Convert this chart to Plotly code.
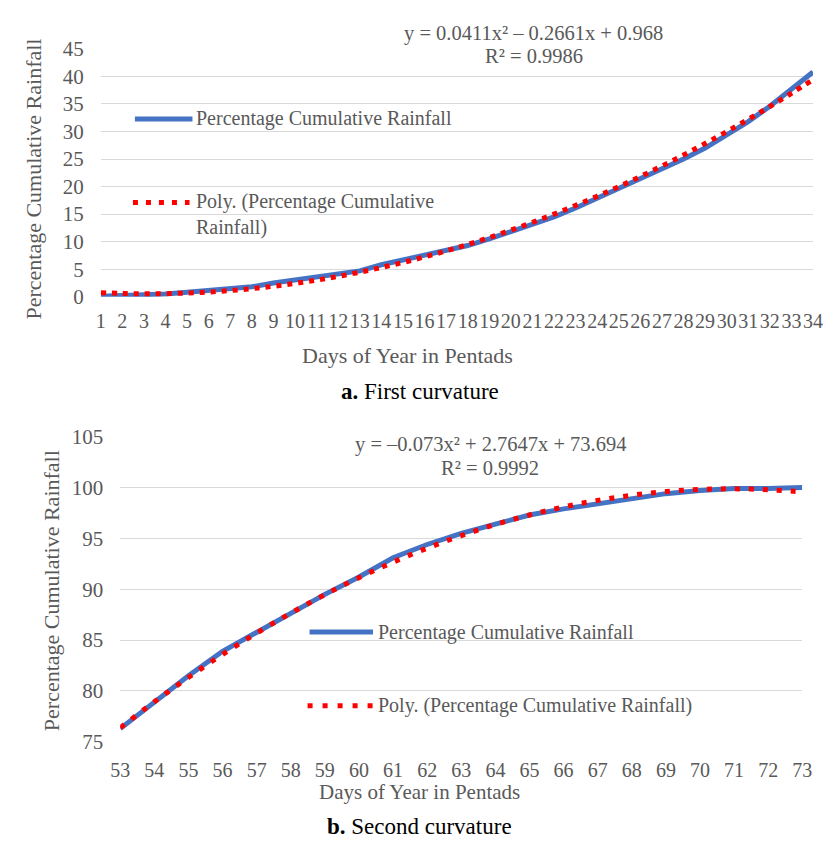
import plotly.graph_objects as go

# ---------------- data ----------------
pentads_a = [str(i) for i in range(1, 35)]
rain_a = [0.1, 0.2, 0.3, 0.5, 0.8, 1.1, 1.3, 1.8, 2.5, 3.0, 3.5, 4.2, 4.7, 5.8, 6.7, 7.6, 8.3,
          9.3, 10.5, 11.8, 13.2, 14.5, 16.1, 17.9, 19.7, 21.4, 23.1, 25.0, 27.0, 29.3, 31.8,
          34.6, 37.7, 40.8]
poly_a = [0.74, 0.60, 0.54, 0.56, 0.67, 0.85, 1.12, 1.47, 1.90, 2.42, 3.01, 3.69, 4.46, 5.30,
          6.22, 7.23, 8.32, 9.50, 10.75, 12.09, 13.51, 15.01, 16.59, 18.26, 20.00, 21.83,
          23.75, 25.74, 27.82, 29.98, 32.22, 34.54, 36.95, 39.43]

pentads_b = [str(i) for i in range(53, 74)]
rain_b = [76.3, 78.9, 81.5, 83.9, 85.8, 87.7, 89.5, 91.2, 93.1, 94.4, 95.5, 96.4, 97.3, 97.9,
          98.4, 98.8, 99.4, 99.7, 99.9, 99.9, 100.0]
poly_b = [76.39, 78.93, 81.33, 83.59, 85.69, 87.65, 89.47, 91.14, 92.66, 94.04, 95.27, 96.36,
          97.30, 98.09, 98.74, 99.24, 99.60, 99.81, 99.87, 99.79, 99.56]

eq_a = ["y = 0.0411x² – 0.2661x + 0.968", "R² = 0.9986"]
eq_b = ["y = –0.073x² + 2.7647x + 73.694", "R² = 0.9992"]
series_name = "Percentage Cumulative Rainfall"
poly_name_a = "Poly. (Percentage Cumulative<br>Rainfall)"
poly_name_b = "Poly. (Percentage Cumulative Rainfall)"
x_title = "Days of Year in Pentads"
y_title = "Percentage Cumulative Rainfall"

# ---------------- styling ----------------
W, H = 824, 851
FONT = "Liberation Serif, Times New Roman, serif"
GRAY = "#595959"
BLUE = "#4472C4"
RED = "#FF0000"
GRID = "#D9D9D9"


def px(x):
    return x / W


def py(y):
    return 1 - y / H


fig = go.Figure()
fig.add_trace(go.Scatter(x=pentads_a, y=rain_a, mode="lines", line=dict(color=BLUE, width=5),
                         xaxis="x", yaxis="y", name=series_name))
fig.add_trace(go.Scatter(x=pentads_a, y=poly_a, mode="lines",
                         line=dict(color=RED, width=5, dash="5px,6px", shape="spline"),
                         xaxis="x", yaxis="y", name="Poly"))
fig.add_trace(go.Scatter(x=pentads_b, y=rain_b, mode="lines", line=dict(color=BLUE, width=5),
                         xaxis="x2", yaxis="y2", name=series_name))
fig.add_trace(go.Scatter(x=pentads_b, y=poly_b, mode="lines",
                         line=dict(color=RED, width=5, dash="5px,9px", shape="spline"),
                         xaxis="x2", yaxis="y2", name="Poly"))

xtickfont = dict(family=FONT, size=20, color=GRAY)
ytickfont = dict(family=FONT, size=21, color=GRAY)
common_x = dict(type="category", showgrid=False, showline=False, zeroline=False, ticks="",
                tickfont=xtickfont, fixedrange=True, tickmode="linear", dtick=1, tickangle=0)
common_y = dict(showgrid=True, gridcolor=GRID, gridwidth=1.3, zeroline=False, showline=False,
                ticks="", tickfont=ytickfont, ticklabelstandoff=16, dtick=5)

fig.update_layout(
    width=W, height=H,
    margin=dict(l=0, r=0, t=0, b=0),
    paper_bgcolor="white", plot_bgcolor="white",
    showlegend=False,
    xaxis=dict(common_x, domain=[px(93), px(823)], anchor="y", ticklabelstandoff=10),
    yaxis=dict(common_y, domain=[py(293), py(38)], range=[0, 45], anchor="x"),
    xaxis2=dict(common_x, domain=[px(113), px(812)], anchor="y2", ticklabelstandoff=14),
    yaxis2=dict(common_y, domain=[py(751), py(437)], range=[75, 105], anchor="x2"),
)

ann = []


def text(x, y, s, size=19, color=GRAY, xanchor="center", angle=0):
    ann.append(dict(x=px(x), y=py(y), xref="paper", yref="paper", text=s, showarrow=False,
                    xanchor=xanchor, yanchor="middle", textangle=angle, align="left",
                    font=dict(family=FONT, size=size, color=color)))


# top chart texts
text(537, 22, eq_a[0], size=20.5)
text(537, 45, eq_a[1], size=20.5)
text(24, 172, y_title, size=22, angle=-90)
text(407, 353, x_title, size=22)
text(420, 390, "<b>a.</b> First curvature", size=23, color="black")
text(189, 110, series_name, size=20, xanchor="left")
text(189, 208, poly_name_a, size=20, xanchor="left")

# bottom chart texts
text(492, 445, eq_b[0], size=20.5)
text(492, 469, eq_b[1], size=20.5)
text(42, 595, y_title, size=22, angle=-90)
text(420, 803, x_title, size=21)
text(420, 838, "<b>b.</b> Second curvature", size=23, color="black")
text(375, 638, series_name, size=20, xanchor="left")
text(375, 714, poly_name_b, size=20, xanchor="left")

fig.update_layout(annotations=ann)

shapes = [
    dict(type="line", xref="paper", yref="paper", x0=px(128), x1=px(187), y0=py(110), y1=py(110),
         line=dict(color=BLUE, width=5)),
    dict(type="line", xref="paper", yref="paper", x0=px(126), x1=px(184), y0=py(196), y1=py(196),
         line=dict(color=RED, width=5, dash="5px,8px")),
    dict(type="line", xref="paper", yref="paper", x0=px(307), x1=px(372), y0=py(638), y1=py(638),
         line=dict(color=BLUE, width=5)),
    dict(type="line", xref="paper", yref="paper", x0=px(305), x1=px(372), y0=py(714), y1=py(714),
         line=dict(color=RED, width=5, dash="5px,10px")),
]
fig.update_layout(shapes=shapes)

fig.write_html("out.html", config={"displayModeBar": False},
               post_script="document.body.style.margin='0';document.body.style.overflow='hidden';")
